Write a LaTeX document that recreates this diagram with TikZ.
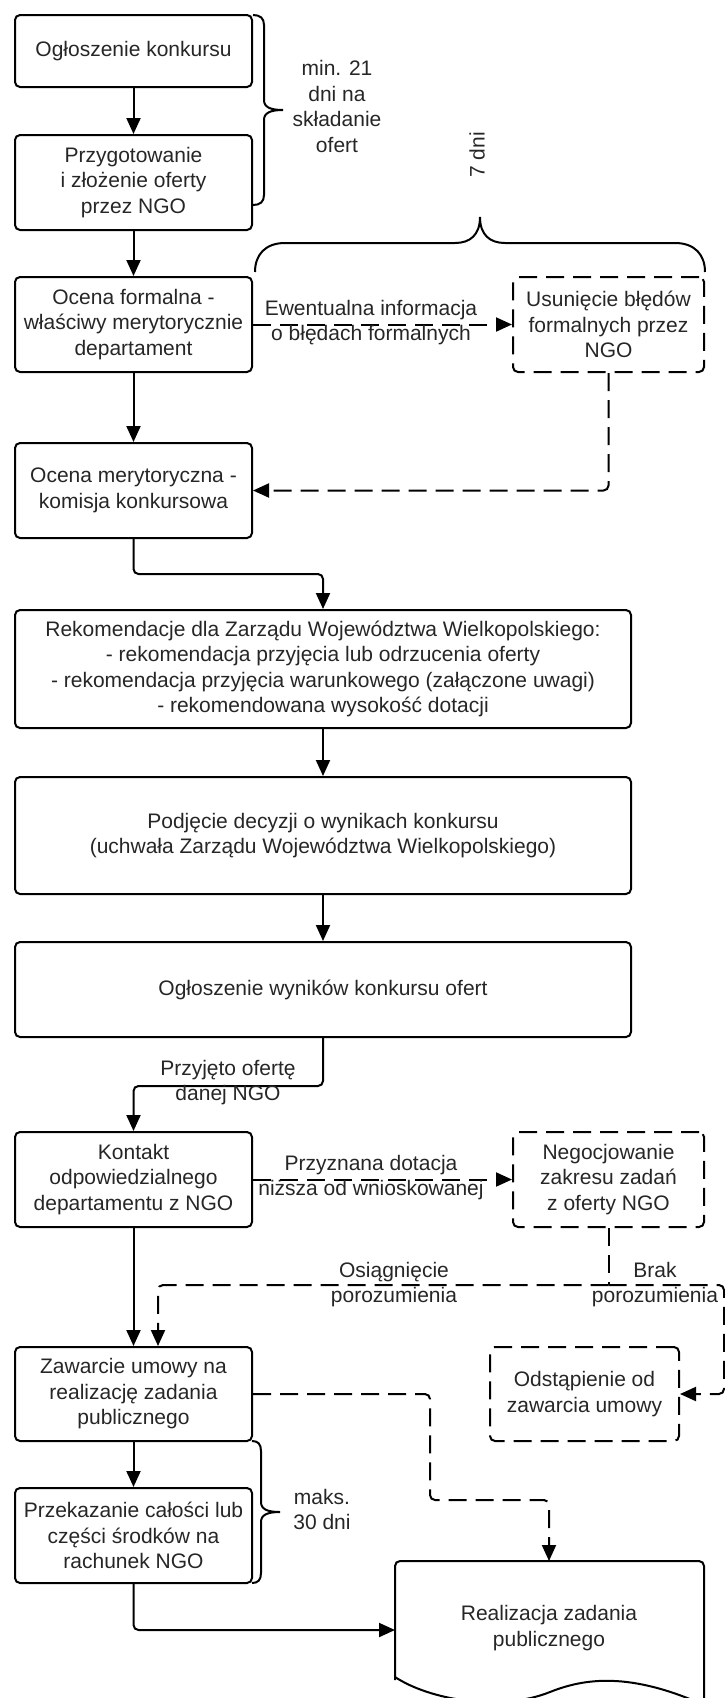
\documentclass[tikz,border=0pt]{standalone}
\usepackage{fontspec}
\setmainfont{Liberation Sans}
\usetikzlibrary{arrows.meta}
\definecolor{txt}{HTML}{262626}
\begin{document}
\begin{tikzpicture}[x=1pt,y=-1pt,
  every node/.style={font=\fontsize{21}{25.5}\selectfont, text=txt, align=center, inner sep=0pt},
  box/.style={draw=black, line width=2pt, rounded corners=5pt, minimum width=237pt, minimum height=95pt},
  dbox/.style={box, dash pattern=on 18pt off 9pt},
  conn/.style={draw=black, line width=2pt, rounded corners=5pt, -{Triangle[length=16pt,width=14pt]}},
  dconn/.style={conn, dash pattern=on 18pt off 9pt},
  dline/.style={draw=black, line width=2pt, rounded corners=5pt, dash pattern=on 18pt off 9pt},
  bracestyle/.style={draw=black, line width=2pt}
]
\useasboundingbox (0,0) rectangle (725,1698);

% boxes
\node[box, minimum height=72pt] (b1) at (133.5,51) {Ogłoszenie konkursu};
\node[box] (b2) at (133.5,182.5) {Przygotowanie\\i złożenie oferty\\przez NGO};
\node[box] (b3) at (133.5,324.5) {Ocena formalna -\\właściwy merytorycznie\\departament};
\node[dbox, minimum width=191pt] (usun) at (608.5,324.5) {Usunięcie błędów\\formalnych przez\\NGO};
\node[box] (b4) at (133.5,490.5) {Ocena merytoryczna -\\komisja konkursowa};
\node[box, minimum width=616pt, minimum height=118pt] (b5) at (323,669) {Rekomendacje dla Zarządu Województwa Wielkopolskiego:\\- rekomendacja przyjęcia lub odrzucenia oferty\\- rekomendacja przyjęcia warunkowego (załączone uwagi)\\- rekomendowana wysokość dotacji};
\node[box, minimum width=616pt, minimum height=117pt] (b6) at (323,835.5) {Podjęcie decyzji o wynikach konkursu\\(uchwała Zarządu Województwa Wielkopolskiego)};
\node[box, minimum width=616pt] (b7) at (323,989.5) {Ogłoszenie wyników konkursu ofert};
\node[box] (b8) at (133.5,1179.5) {Kontakt\\odpowiedzialnego\\departamentu z NGO};
\node[dbox, minimum width=191pt] (neg) at (608.5,1179.5) {Negocjowanie\\zakresu zadań\\z oferty NGO};
\node[box, minimum height=94pt] (b9) at (133.5,1394) {Zawarcie umowy na\\realizację zadania\\publicznego};
\node[dbox, minimum width=189pt, minimum height=94pt] (odst) at (584.5,1394) {Odstąpienie od\\zawarcia umowy};
\node[box] (b10) at (133.5,1535.5) {Przekazanie całości lub\\części środków na\\rachunek NGO};

% document shape
\draw[line width=2pt, rounded corners=5pt] (395,1680) -- (395,1561) -- (704,1561) -- (704,1712);
\draw[line width=2pt] (395,1677) .. controls (430,1700) and (500,1712) .. (550,1692)
  .. controls (585,1678) and (630,1672) .. (704,1705);
\node (doc) at (549,1628) {Realizacja zadania\\publicznego};
\coordinate (docTop) at (549,1561);
\coordinate (docLeft) at (395,1630);

% braces
\draw[bracestyle] (253,15) .. controls (260,15) and (264,18) .. (264,25) -- (264,100)
  .. controls (264,107) and (270,110) .. (283,110) .. controls (270,110) and (264,113) .. (264,120)
  -- (264,195) .. controls (264,202) and (260,205) .. (253,205);
\node (t21) at (337,106.5) {min. 21\\dni na\\składanie\\ofert};

\draw[bracestyle] (255,272) .. controls (255,255) and (265,243) .. (285,243) -- (455,243)
  .. controls (470,243) and (480,235) .. (480,217) .. controls (480,235) and (490,243) .. (505,243)
  -- (675,243) .. controls (695,243) and (705,255) .. (705,272);
\node[rotate=90] (t7) at (477,155) {7 dni};

\draw[bracestyle] (252,1441) .. controls (258,1441) and (261,1444) .. (261,1451) -- (261,1502)
  .. controls (261,1509) and (267,1512) .. (280,1512) .. controls (267,1512) and (261,1515) .. (261,1522)
  -- (261,1573) .. controls (261,1580) and (258,1583) .. (252,1583);
\node (t30) at (322,1509.5) {maks.\\30 dni};

% coordinates
\coordinate (j) at (608.5,1285);
\coordinate (r) at (724,1285);
\coordinate (k1) at (430,1500);

% connectors
\draw[conn] (b1) -- (b2);
\draw[conn] (b2) -- (b3);
\draw[dconn] (b3) -- (usun);
\node (l1) at (371,322.5) {Ewentualna informacja\\o błędach formalnych};
\draw[conn] (b3) -- (b4);
\draw[dconn] (usun.south) |- (b4.east);
\draw[conn] (b4.south) -- ++(0,35) -| (b5.north);
\draw[conn] (b5) -- (b6);
\draw[conn] (b6) -- (b7);
\draw[conn] (b7.south) -- ++(0,48) -| (b8.north);
\node (l2) at (228,1082.5) {Przyjęto ofertę\\danej NGO};
\draw[dconn] (b8) -- (neg);
\node (l3) at (371,1177.5) {Przyznana dotacja\\niższa od wnioskowanej};
\draw[conn] (b8) -- (b9);
\draw[dline] (neg.south) -- (j);
\draw[dconn] (j) -| ([xshift=24.5pt]b9.north);
\draw[dconn] (j) -- (r) |- (odst.east);
\node (l4) at (394,1284.5) {Osiągnięcie\\porozumienia};
\node (l5) at (655,1284.5) {Brak\\porozumienia};
\draw[conn] (b9) -- (b10);
\draw[dconn] (b9.east) -| (k1) -| (docTop);
\draw[conn] (b10.south) |- (docLeft);
\end{tikzpicture}
\end{document}
